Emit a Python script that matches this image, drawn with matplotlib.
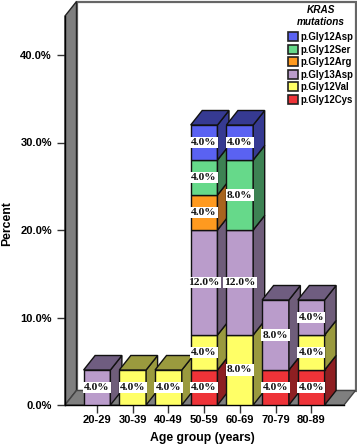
import numpy as np
import matplotlib
matplotlib.use("Agg")
import matplotlib.pyplot as plt
from matplotlib.patches import Patch

ages = ['20-29', '30-39', '40-49', '50-59', '60-69', '70-79', '80-89']

# stack order, bottom to top
cys = [0, 0, 0, 4, 0, 4, 4]
val = [0, 4, 4, 4, 8, 0, 4]
asp13 = [4, 0, 0, 12, 12, 8, 4]
arg = [0, 0, 0, 4, 0, 0, 0]
ser = [0, 0, 0, 4, 8, 0, 0]
asp12 = [0, 0, 0, 4, 4, 0, 0]

series = [cys, val, asp13, arg, ser, asp12]
names = ['p.Gly12Cys', 'p.Gly12Val', 'p.Gly13Asp', 'p.Gly12Arg', 'p.Gly12Ser', 'p.Gly12Asp']
front = ['#EE3338', '#FFFF66', '#BA9CCB', '#FF9A1F', '#66D98A', '#5A62F2']
side = ['#8E1F22', '#9A9A3E', '#6F5D7A', '#A8641E', '#3D8253', '#363A92']
top = ['#8E1F22', '#9A9A3E', '#6F5D80', '#A8641E', '#3D8253', '#363A92']

yticks = [0, 10, 20, 30, 40]

plt.rcParams['font.family'] = 'Liberation Sans'

W, H = 357, 445
fig = plt.figure(figsize=(W / 100, H / 100), dpi=100)
left, right, bottom, upper = 65, 344, 40, 429
ax = fig.add_axes([left / W, bottom / H, (right - left) / W, (upper - bottom) / H])

pitch = 35.7
ax.set_xlim((left - 97) / pitch, (right - 97) / pitch)
ax.set_ylim(0, (upper - bottom) / 8.75)
xmin, xmax = ax.get_xlim()
ymax = ax.get_ylim()[1]

# 3d depth, in data units
dx = 11.5 / pitch
dy = 14.5 / 8.75
width = 0.75

edge = '#111111'

# walls and floor
ax.fill([xmin + dx, xmax + dx, xmax + dx, xmin + dx], [dy, dy, ymax + dy, ymax + dy],
        fc='white', ec='#666666', lw=1.6, clip_on=False, zorder=1)
ax.fill([xmin, xmin + dx, xmin + dx, xmin], [0, dy, ymax + dy, ymax],
        fc='#7F7F7F', ec='#222222', lw=1, clip_on=False, zorder=2)
ax.fill([xmin, xmax, xmax + dx, xmin + dx], [0, 0, dy, dy],
        fc='#7F7F7F', ec='#444444', lw=1, clip_on=False, zorder=2)

x = np.arange(len(ages))
z = 3
for i in x:
    base = 0
    total = sum(s[i] for s in series)
    for s, fc, sc, tc in zip(series, front, side, top):
        v = s[i]
        if v == 0:
            continue
        x0 = i - width / 2
        x1 = i + width / 2
        ax.bar(i, v, width=width, bottom=base, color=fc, edgecolor=edge, linewidth=1, zorder=z)
        ax.fill([x1, x1 + dx, x1 + dx, x1], [base, base + dy, base + v + dy, base + v],
                fc=sc, ec=edge, lw=1, zorder=z, clip_on=False)
        if base + v == total:
            ax.fill([x0, x1, x1 + dx, x0 + dx], [base + v, base + v, base + v + dy, base + v + dy],
                    fc=tc, ec=edge, lw=1, zorder=z, clip_on=False)
        ax.text(i, base + v / 2, '%.1f%%' % v, ha='center', va='center', fontsize=8.2,
                family='Liberation Serif', weight='bold', color='#111111', zorder=z + 1,
                bbox=dict(fc='white', ec='none', pad=1.0))
        base += v
    z += 2

for sp in ['top', 'right']:
    ax.spines[sp].set_visible(False)
ax.spines['left'].set_linewidth(1)
ax.spines['bottom'].set_linewidth(1)
ax.spines['left'].set_zorder(2.5)

ax.set_xticks(x)
ax.set_xticklabels(ages, fontsize=8, weight='bold')
ax.set_yticks(yticks)
ax.set_yticklabels(['%.1f%%' % t for t in yticks], fontsize=8, weight='bold')
ax.tick_params(axis='y', length=6, width=1, pad=3.5, color='#333333')
ax.tick_params(axis='x', length=6, width=1, pad=1.5, color='#333333')

fig.text(202 / W, 1 - 438 / H, 'Age group (years)', ha='center', va='center', fontsize=8.8, weight='bold')
fig.text(7 / W, 1 - 224 / H, 'Percent', ha='center', va='center', rotation=90, fontsize=8.8, weight='bold')

# legend, top entry first
handles = [Patch(fc=c, ec='#222222', lw=1.2, label=n) for c, n in zip(front[::-1], names[::-1])]
leg = ax.legend(handles=handles, title='KRAS\nmutations', loc='upper left', frameon=False,
                bbox_to_anchor=(288 / W, 1 - 5 / H), bbox_transform=fig.transFigure,
                prop=dict(size=6.9, weight='bold'), labelspacing=0.26, handlelength=1.05,
                handleheight=1.1, handletextpad=0.25, borderpad=0, borderaxespad=0)
leg.get_title().set_fontsize(7.2)
leg.get_title().set_style('italic')
leg.get_title().set_weight('bold')
leg.get_title().set_multialignment('center')
leg._legend_box.align = 'center'
leg._legend_box.sep = 4
leg.set_zorder(50)

fig.savefig('out.png', dpi=100)
